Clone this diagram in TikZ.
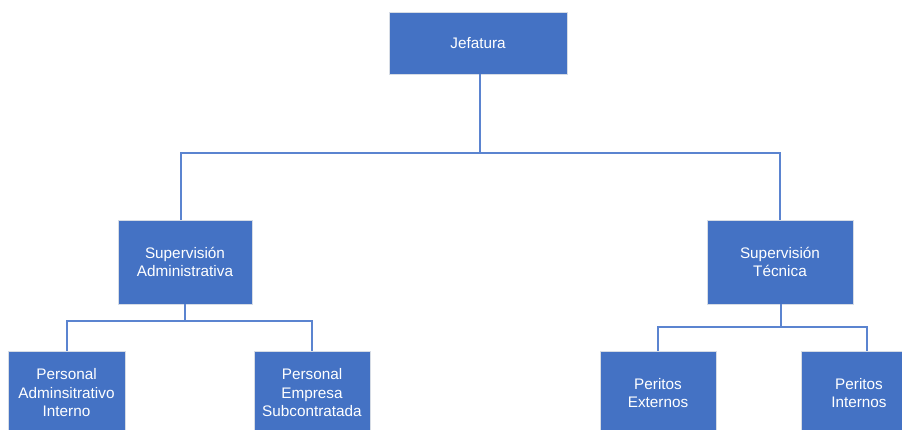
\documentclass[tikz,border=0pt]{standalone}
\usepackage{fontspec}
\setmainfont{Liberation Sans}
\definecolor{boxblue}{HTML}{4472C4}
\definecolor{linkblue}{HTML}{5B84D0}
\definecolor{boxrim}{HTML}{D6DCE5}
\begin{document}
\begin{tikzpicture}[x=1pt,y=-1pt,
  unit/.style={rectangle, fill=boxblue, draw=boxrim, line width=0.9pt,
    text=white, align=center, inner sep=0pt,
    font=\fontsize{15.3}{18.5}\selectfont},
  link/.style={draw=linkblue, line width=1.3pt}]
\clip (0,0) rectangle (902,430);
\fill[white] (0,0) rectangle (902,430);

% boxes
\node[unit, minimum width=178pt, minimum height=62pt] (jef) at (478,43) {Jefatura};
\node[unit, minimum width=134pt, minimum height=84pt] (sa) at (185,262) {Supervisión\\Administrativa};
\node[unit, minimum width=146pt, minimum height=84pt] (st) at (780,262) {Supervisión\\Técnica};
\node[unit, minimum width=117pt, minimum height=84pt] (pai) at (66.5,393) {Personal\\Adminsitrativo\\Interno};
\node[unit, minimum width=116pt, minimum height=84pt] (pes) at (312,393) {Personal\\Empresa\\Subcontratada};
\node[unit, minimum width=116pt, minimum height=84pt] (pex) at (658,393) {Peritos\\Externos};
\node[unit, minimum width=116pt, minimum height=84pt] (pin) at (859,393) {Peritos\\Internos};

% bus levels
\coordinate (busA) at (480,153);
\coordinate (busB) at (185,321);
\coordinate (busC) at (781,327);

% connectors
\draw[link] ([xshift=2pt]jef.south) -- (busA);
\draw[link] (busA) -| ([xshift=-4pt]sa.north);
\draw[link] (busA) -| (st.north);
\draw[link] (sa.south) -- (busB);
\draw[link] (busB) -| ([xshift=0.5pt]pai.north);
\draw[link] (busB) -| (pes.north);
\draw[link] ([xshift=1pt]st.south) -- (busC);
\draw[link] (busC) -| (pex.north);
\draw[link] (busC) -| ([xshift=8pt]pin.north);
\end{tikzpicture}
\end{document}
